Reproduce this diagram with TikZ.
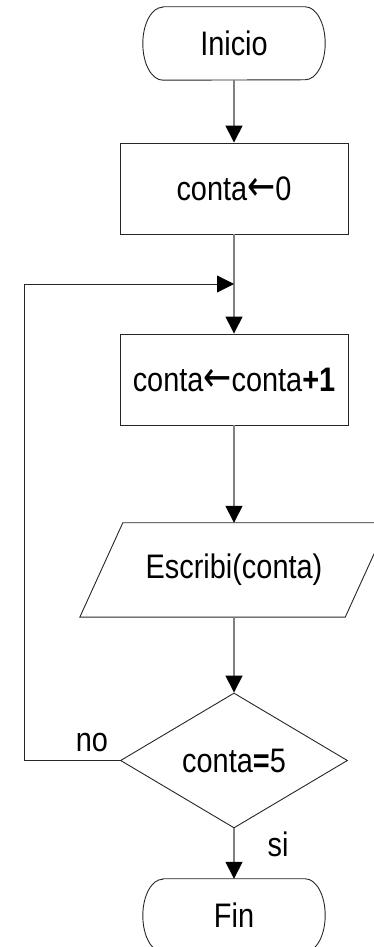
\documentclass[tikz,border=0pt]{standalone}
\usepackage{fontspec}
\setmainfont{Liberation Sans}[FakeStretch=0.85]
\newfontfamily\arrowfont{DejaVu Sans}[FakeStretch=0.8]
\usetikzlibrary{arrows.meta,shapes.geometric}

\tikzset{
  every node/.style={font=\fontsize{34}{40}\selectfont, inner sep=0pt},
  shapeline/.style={draw=black!85, line width=0.9pt},
  flowline/.style={draw=black!50, line width=1.5pt, -{Triangle[black,length=17pt,width=17pt]}},
  loopline/.style={draw=black!85, line width=0.9pt, -{Triangle[black,length=17pt,width=17pt]}},
  termbox/.style={rectangle, minimum width=182pt, minimum height=73pt},
  procbox/.style={rectangle, shapeline, minimum width=228pt, minimum height=91pt},
  iobox/.style={rectangle, minimum width=265pt, minimum height=94pt},
  testbox/.style={diamond, shapeline, aspect=1.68, minimum width=227pt, minimum height=135pt}
}

% terminator outline with elliptic ends
\newcommand{\drawterm}[1]{%
  \draw[shapeline] ([xshift=20pt]#1.north west) -- ([xshift=-20pt]#1.north east)
    arc[start angle=90, end angle=-90, x radius=20pt, y radius=36.5pt]
    -- ([xshift=20pt]#1.south west)
    arc[start angle=270, end angle=90, x radius=20pt, y radius=36.5pt] -- cycle;}
\newcommand{\getsarrow}{{\arrowfont\fontsize{42}{40}\selectfont←}}

\begin{document}
\begin{tikzpicture}[x=1pt,y=1pt]
  \useasboundingbox (0,0) rectangle (374,947);
  \clip (0,0) rectangle (374,947);

  \node[termbox] (inicio) at (234,903.5) {Inicio};
  \drawterm{inicio}
  \node[procbox] (setzero) at (234,758.5) {conta\getsarrow0};
  \coordinate (join) at (234,663);
  \coordinate (bend) at (24,663);
  \node[procbox] (incr) at (234,567.5) {conta\getsarrow conta\textbf{+1}};
  \node[iobox] (escribe) at (234,377) {Escribi(conta)};
  \draw[shapeline] ([xshift=21.5pt]escribe.north west) -- ([xshift=21.5pt]escribe.north east)
    -- ([xshift=-21.5pt]escribe.south east) -- ([xshift=-21.5pt]escribe.south west) -- cycle;
  \node[testbox] (check) at (234,186.5) {conta\textbf{=}5};
  \node[termbox] (fin) at (234,31.5) {Fin};
  \drawterm{fin}

  % labels on the branches
  \node (nolabel) at (92,204) {no};
  \node (silabel) at (278,103) {si};

  % connectors
  \draw[flowline] (inicio) -- (setzero);
  \draw[flowline] (setzero) -- (incr);
  \draw[flowline] (incr) -- (escribe);
  \draw[flowline] (escribe) -- (check);
  \draw[flowline] (check) -- (fin);
  \draw[loopline] (check.west) -| (bend) -- (join);
\end{tikzpicture}
\end{document}
